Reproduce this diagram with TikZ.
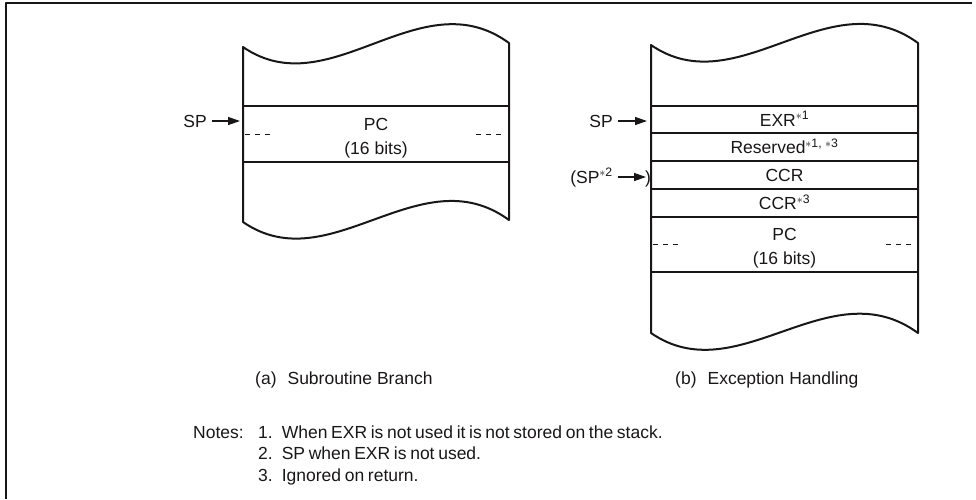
\documentclass[tikz,border=0pt]{standalone}
\usepackage{fontspec}
\setmainfont{Liberation Sans}
\usetikzlibrary{arrows.meta}
\usetikzlibrary{positioning}
\definecolor{ink}{RGB}{25,22,23}
\newcommand{\st}{\(\ast\)}
\newcommand{\tightsp}{\spaceskip=.21em\relax}

\begin{document}
\begin{tikzpicture}[x=1pt, y=-1pt, line join=round,
    wall/.style={draw=ink, line width=2pt},
    txt/.style={font=\fontsize{17.5}{23}\selectfont, text=ink, inner sep=0pt,
      text height=12.5pt, text depth=0pt},
    note/.style={txt, anchor=west, font=\fontsize{17.5}{23}\selectfont\tightsp},
    ptr/.style={draw=ink, line width=1.3pt, -{Triangle[length=12pt,width=8pt]},
      shorten <=5pt},
    gap/.style={draw=ink, line width=1pt, dash pattern=on 5pt off 5pt}]

    \useasboundingbox (0,0) rectangle (976,499);
    \draw[ink, line width=2pt] (6,499) -- (6,3) -- (972,3);

    % (a) subroutine branch
    \draw[wall] (243,47) .. controls +(87,60) and +(-89,-65) .. (509,43)
      -- (509,220) .. controls +(-89,-65) and +(87,60) .. (243,222) -- cycle;
    \foreach \y in {106,162}{
      \draw[wall] (243,\y) -- (509,\y);
    }
    \node[txt] (pca) at (376,124) {PC};
    \node[txt, below=11pt of pca] (bitsa) {(16 bits)};
    \draw[gap] (245,134) -- (273,134);
    \draw[gap] (476,134) -- (502,134);

    \node[txt, anchor=east] (spa) at (207,121) {SP};
    \coordinate (pa) at (240,121);
    \draw[ptr] (spa) -- (pa);

    \node[txt, anchor=west] (capa) at (255,378) {(a)\hspace{11pt}Subroutine Branch};

    % (b) exception handling
    \draw[wall] (651,45) .. controls +(87,60) and +(-89,-65) .. (918,43)
      -- (918,333) .. controls +(-89,-65) and +(87,60) .. (651,333) -- cycle;
    \foreach \y in {106,133,161,189,217,272}{
      \draw[wall] (651,\y) -- (918,\y);
    }
    \node[txt] (exr) at (784.5,120) {EXR\textsuperscript{\st1}};
    \node[txt] (rsv) at (784.5,147.5) {Reserved\textsuperscript{\st1, \st3}};
    \node[txt] (ccr) at (784.5,175.5) {CCR};
    \node[txt] (ccrx) at (784.5,203.5) {CCR\textsuperscript{\st3}};
    \node[txt] (pcb) at (784.5,234) {PC};
    \node[txt, below=11pt of pcb] (bitsb) {(16 bits)};
    \draw[gap] (653,244) -- (681,244);
    \draw[gap] (886,244) -- (913,244);

    \node[txt, anchor=east] (spb) at (613,121) {SP};
    \coordinate (pb) at (647,121);
    \draw[ptr] (spb) -- (pb);

    \node[txt, anchor=east] (spc) at (613,177) {(SP\textsuperscript{\st2}};
    \coordinate (pc) at (646,177);
    \draw[ptr] (spc) -- (pc);
    \node[txt, anchor=west] (rpar) at (645,177) {)};

    \node[txt, anchor=west] (capb) at (675,378) {(b)\hspace{11pt}Exception Handling};

    % notes
    \node[note] (notes) at (193,432) {Notes:};
    \node[note] (n1) at (258,432)
      {1.\hspace{9pt}When EXR is not used it is not stored on the stack.};
    \node[note] (n2) at (258,453) {2.\hspace{9pt}SP when EXR is not used.};
    \node[note] (n3) at (258,475) {3.\hspace{9pt}Ignored on return.};

  \end{tikzpicture}
\end{document}
